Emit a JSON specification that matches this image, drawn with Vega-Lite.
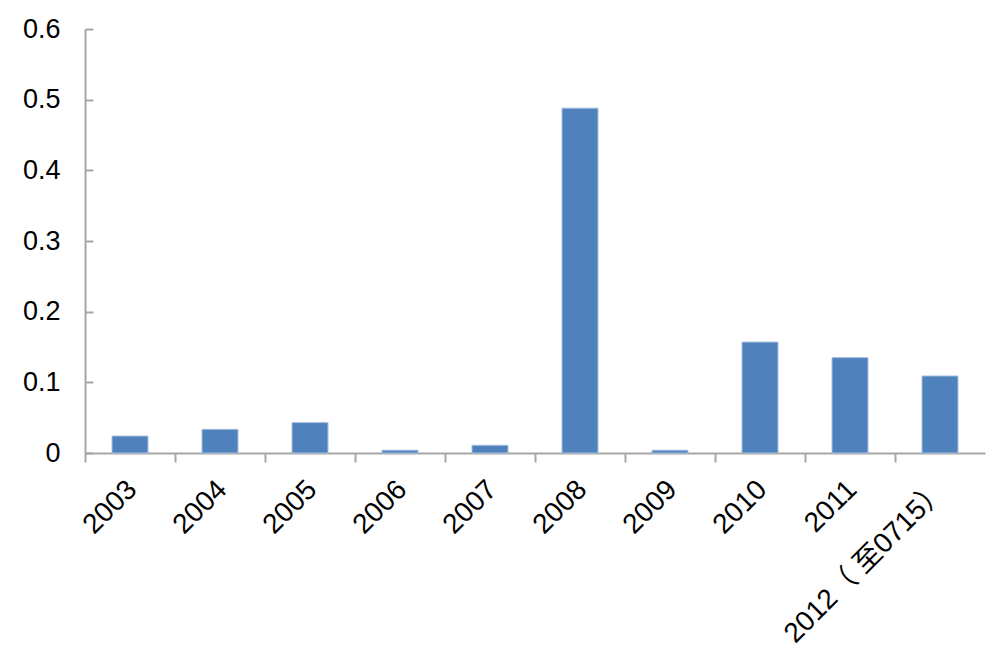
{
  "$schema": "https://vega.github.io/schema/vega-lite/v6.json",
  "autosize": {"type": "none"},
  "padding": {"left": 85, "top": 29, "right": 11, "bottom": 207},
  "width": 900,
  "height": 424,
  "background": "white",
  "config": {"view": {"stroke": null}, "font": "Liberation Sans, Noto Sans CJK SC"},
  "data": {
    "values": [
      {"year": "2003", "value": 0.024},
      {"year": "2004", "value": 0.0335},
      {"year": "2005", "value": 0.043},
      {"year": "2006", "value": 0.004},
      {"year": "2007", "value": 0.011},
      {"year": "2008", "value": 0.488},
      {"year": "2009", "value": 0.004},
      {"year": "2010", "value": 0.157},
      {"year": "2011", "value": 0.135},
      {"year": "2012（ 至0715）", "value": 0.109}
    ]
  },
  "mark": {"type": "bar", "color": "#4F81BD", "stroke": "#a9c0de", "strokeWidth": 1},
  "encoding": {
    "x": {
      "field": "year",
      "type": "nominal",
      "sort": null,
      "scale": {"paddingInner": 0.6, "paddingOuter": 0.3},
      "axis": {
        "title": null,
        "labelAngle": -45,
        "labelAlign": "right",
        "labelBaseline": "middle",
        "labelFontSize": 28,
        "labelColor": "black",
        "labelPadding": 23,
        "labelLimit": 0,
        "domainColor": "#a6a6a6",
        "domainWidth": 2,
        "tickColor": "#a6a6a6",
        "tickWidth": 2,
        "tickSize": 9,
        "tickOffset": -45,
        "labelOffset": 47
      }
    },
    "y": {
      "field": "value",
      "type": "quantitative",
      "scale": {"domain": [0, 0.6], "nice": false},
      "axis": {
        "title": null,
        "values": [0, 0.1, 0.2, 0.3, 0.4, 0.5, 0.6],
        "format": ".1~f",
        "grid": false,
        "labelFontSize": 27,
        "labelColor": "black",
        "labelPadding": 33,
        "domainColor": "#a6a6a6",
        "domainWidth": 2,
        "tickColor": "#a6a6a6",
        "tickWidth": 2,
        "tickSize": -8
      }
    }
  }
}
